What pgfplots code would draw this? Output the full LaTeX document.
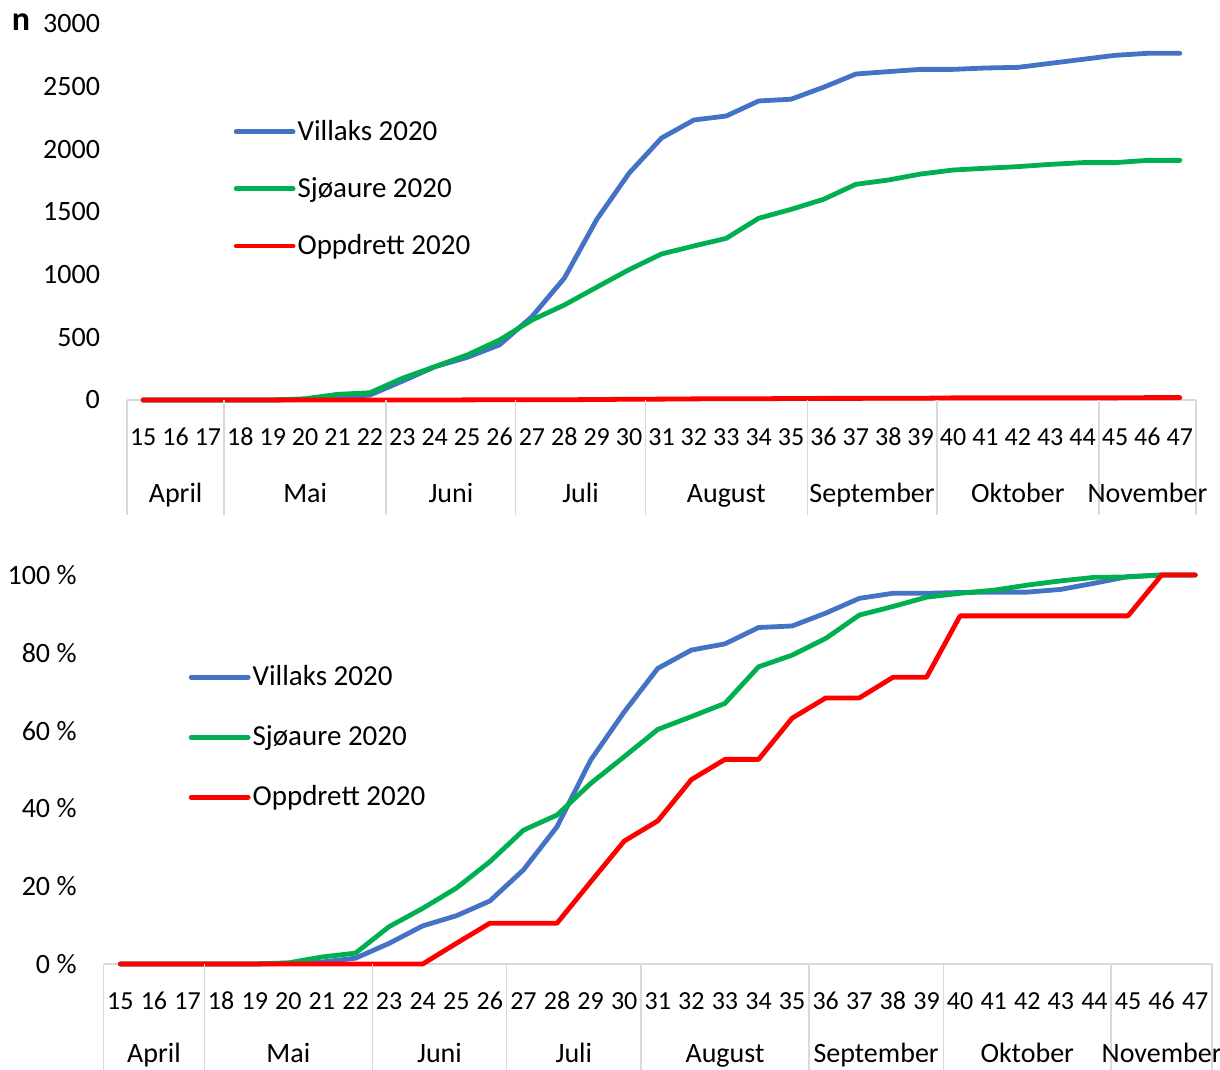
\documentclass[border=0pt]{standalone}
\usepackage{fontspec}
\setmainfont{Carlito}
\usepackage{pgfplots}
\pgfplotsset{compat=1.18}
\definecolor{cblue}{HTML}{4472C4}
\definecolor{cgreen}{HTML}{00B050}
\definecolor{cred}{HTML}{FF0000}
\definecolor{sepc}{HTML}{D9D9D9}

\pgfplotsset{
  legend image code/.code={\draw[#1, line width=2.4pt, line cap=round] (0pt,0pt) -- (28.5pt,0pt);},
  myaxis/.style={
    scale only axis,
    xmin=14.5, xmax=47.5,
    ymin=0,
    axis x line*=bottom,
    axis y line*=left,
    y axis line style={draw=none},
    x axis line style={-, draw=sepc, line width=0.75pt},
    xtick={15,...,47},
    major tick length=0pt,
    tick style={draw=none},
    xticklabel style={font=\fontsize{13}{13}\selectfont, anchor=center, yshift=-18.5pt},
    yticklabel style={font=\fontsize{14}{14}\selectfont, xshift=-10pt},
    /pgf/number format/assume math mode=true,
    /pgf/number format/1000 sep={},
    clip=false,
    legend cell align=left,
    legend style={draw=none, fill=none, font=\fontsize{14.5}{14.5}\selectfont,
      inner sep=0pt, nodes={inner sep=0pt},
      /tikz/every odd column/.append style={column sep=1pt}},
    every axis plot/.append style={line width=2.4pt, line join=round, line cap=round},
  }
}

\begin{document}
\begin{tikzpicture}
\path[use as bounding box] (0pt,0pt) rectangle (610pt,-535pt);
\node[font=\bfseries\fontsize{17}{17}\selectfont] at (10.5pt,-11pt) {n};

% ---------- top panel ----------
\begin{axis}[myaxis,
  at={(63.5pt,-200pt)}, anchor=south west,
  width=534.5pt, height=188pt,
  ymax=3000, ytick={0,500,...,3000},
  legend style={at={(0.0995,0.745)}, anchor=north west, row sep=17pt},
]
\addplot[cblue] coordinates {(15,0)(16,0)(17,0)(18,0)(19,0)(20,5)(21,15)(22,40)(23,150)(24,265)(25,340)(26,440)(27,665)(28,972)(29,1440)(30,1810)(31,2090)(32,2234)(33,2266)(34,2386)(35,2400)(36,2495)(37,2601)(38,2620)(39,2638)(40,2638)(41,2649)(42,2654)(43,2686)(44,2718)(45,2750)(46,2766)(47,2766)};
\addlegendentry{Villaks 2020}
\addplot[cgreen] coordinates {(15,0)(16,0)(17,0)(18,0)(19,0)(20,10)(21,45)(22,58)(23,173)(24,266)(25,359)(26,479)(27,638)(28,758)(29,900)(30,1040)(31,1165)(32,1229)(33,1290)(34,1450)(35,1521)(36,1601)(37,1721)(38,1755)(39,1803)(40,1835)(41,1849)(42,1862)(43,1880)(44,1894)(45,1894)(46,1912)(47,1912)};
\addlegendentry{Sjøaure 2020}
\addplot[cred] coordinates {(15,0)(16,0)(17,0)(18,0)(19,0)(20,0)(21,0)(22,0)(23,0)(24,0)(25,1)(26,2)(27,2)(28,2)(29,4)(30,6)(31,7)(32,9)(33,10)(34,10)(35,12)(36,13)(37,13)(38,14)(39,14)(40,17)(41,17)(42,17)(43,17)(44,17)(45,17)(46,19)(47,19)};
\addlegendentry{Oppdrett 2020}
\draw[sepc, line width=0.75pt] (axis cs:14.5,0) -- ++(0pt,-57.5pt);
\draw[sepc, line width=0.75pt] (axis cs:17.5,0) -- ++(0pt,-57.5pt);
\draw[sepc, line width=0.75pt] (axis cs:22.5,0) -- ++(0pt,-57.5pt);
\draw[sepc, line width=0.75pt] (axis cs:26.5,0) -- ++(0pt,-57.5pt);
\draw[sepc, line width=0.75pt] (axis cs:30.5,0) -- ++(0pt,-57.5pt);
\draw[sepc, line width=0.75pt] (axis cs:35.5,0) -- ++(0pt,-57.5pt);
\draw[sepc, line width=0.75pt] (axis cs:39.5,0) -- ++(0pt,-57.5pt);
\draw[sepc, line width=0.75pt] (axis cs:44.5,0) -- ++(0pt,-57.5pt);
\draw[sepc, line width=0.75pt] (axis cs:47.5,0) -- ++(0pt,-57.5pt);
\begin{scope}[every node/.style={font=\fontsize{14}{14}\selectfont, anchor=base, yshift=-51pt}]
\node at (axis cs:16,0) {April};
\node at (axis cs:20,0) {Mai};
\node at (axis cs:24.5,0) {Juni};
\node at (axis cs:28.5,0) {Juli};
\node at (axis cs:33,0) {August};
\node at (axis cs:37.5,0) {September};
\node at (axis cs:42,0) {Oktober};
\node at (axis cs:46,0) {November};
\end{scope}
\end{axis}

% ---------- bottom panel ----------
\begin{axis}[myaxis,
  at={(51.8pt,-482pt)}, anchor=south west,
  width=554.2pt, height=194.5pt,
  ymax=100, ytick={0,20,...,100},
  yticklabels={0 \%,20 \%,40 \%,60 \%,80 \%,100 \%},
  legend style={at={(0.0765,0.768)}, anchor=north west, row sep=18.5pt},
]
\addplot[cblue] coordinates {(15,0)(16,0)(17,0)(18,0)(19,0)(20,0.2)(21,0.5)(22,1.5)(23,5.3)(24,9.8)(25,12.4)(26,16.2)(27,24.2)(28,35.3)(29,52.4)(30,64.8)(31,76.0)(32,80.7)(33,82.3)(34,86.5)(35,86.9)(36,90.2)(37,94.0)(38,95.3)(39,95.3)(40,95.5)(41,95.6)(42,95.6)(43,96.3)(44,97.9)(45,99.6)(46,100)(47,100)};
\addlegendentry{Villaks 2020}
\addplot[cgreen] coordinates {(15,0)(16,0)(17,0)(18,0)(19,0)(20,0.3)(21,1.8)(22,2.8)(23,9.6)(24,14.3)(25,19.5)(26,26.3)(27,34.4)(28,38.3)(29,46.4)(30,53.3)(31,60.3)(32,63.6)(33,67.0)(34,76.4)(35,79.4)(36,83.7)(37,89.7)(38,91.9)(39,94.3)(40,95.3)(41,96.1)(42,97.4)(43,98.5)(44,99.4)(45,99.5)(46,100)(47,100)};
\addlegendentry{Sjøaure 2020}
\addplot[cred] coordinates {(15,0)(16,0)(17,0)(18,0)(19,0)(20,0)(21,0)(22,0)(23,0)(24,0)(25,5.3)(26,10.5)(27,10.5)(28,10.5)(29,21.1)(30,31.6)(31,36.8)(32,47.4)(33,52.6)(34,52.6)(35,63.2)(36,68.4)(37,68.4)(38,73.7)(39,73.7)(40,89.5)(41,89.5)(42,89.5)(43,89.5)(44,89.5)(45,89.5)(46,100)(47,100)};
\addlegendentry{Oppdrett 2020}
\draw[sepc, line width=0.75pt] (axis cs:14.5,0) -- ++(0pt,-53pt);
\draw[sepc, line width=0.75pt] (axis cs:17.5,0) -- ++(0pt,-53pt);
\draw[sepc, line width=0.75pt] (axis cs:22.5,0) -- ++(0pt,-53pt);
\draw[sepc, line width=0.75pt] (axis cs:26.5,0) -- ++(0pt,-53pt);
\draw[sepc, line width=0.75pt] (axis cs:30.5,0) -- ++(0pt,-53pt);
\draw[sepc, line width=0.75pt] (axis cs:35.5,0) -- ++(0pt,-53pt);
\draw[sepc, line width=0.75pt] (axis cs:39.5,0) -- ++(0pt,-53pt);
\draw[sepc, line width=0.75pt] (axis cs:44.5,0) -- ++(0pt,-53pt);
\draw[sepc, line width=0.75pt] (axis cs:47.5,0) -- ++(0pt,-53pt);
\begin{scope}[every node/.style={font=\fontsize{14}{14}\selectfont, anchor=base, yshift=-49pt}]
\node at (axis cs:16,0) {April};
\node at (axis cs:20,0) {Mai};
\node at (axis cs:24.5,0) {Juni};
\node at (axis cs:28.5,0) {Juli};
\node at (axis cs:33,0) {August};
\node at (axis cs:37.5,0) {September};
\node at (axis cs:42,0) {Oktober};
\node at (axis cs:46,0) {November};
\end{scope}
\end{axis}
\end{tikzpicture}
\end{document}
